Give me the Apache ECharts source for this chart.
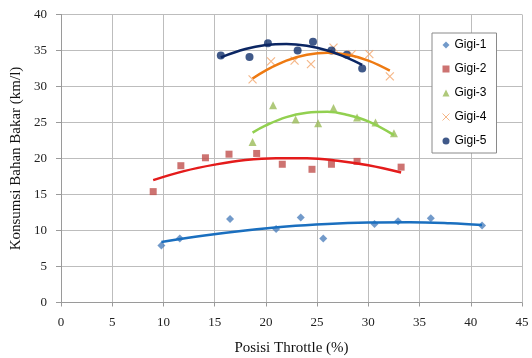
<!DOCTYPE html>
<html>
<head>
<meta charset="utf-8">
<script src="https://cdn.jsdelivr.net/npm/echarts@6/dist/echarts.min.js"></script>
<style>html,body{margin:0;padding:0;background:#fff}#c{width:532px;height:358px}</style>
</head>
<body>
<div id="c"></div>
<script>
// ---- data ----
var seriesNames = ['Gigi-1', 'Gigi-2', 'Gigi-3', 'Gigi-4', 'Gigi-5'];
var gigi1 = [[9.8,7.9],[11.6,8.9],[16.5,11.6],[21.0,10.2],[23.4,11.8],[25.6,8.9],[30.6,10.9],[32.9,11.3],[36.1,11.7],[41.1,10.7]];
var gigi2 = [[9.0,15.4],[11.7,19.0],[14.1,20.1],[16.4,20.6],[19.1,20.7],[21.6,19.2],[24.5,18.5],[26.4,19.2],[28.9,19.6],[33.2,18.8]];
var gigi3 = [[18.7,22.3],[20.7,27.4],[22.9,25.4],[25.1,24.9],[26.6,27.0],[28.9,25.7],[30.7,25.0],[32.5,23.5]];
var gigi4 = [[18.7,31.0],[20.5,33.5],[22.8,33.6],[24.4,33.1],[26.6,35.4],[28.4,34.5],[30.1,34.5],[32.1,31.4]];
var gigi5 = [[15.6,34.3],[18.4,34.1],[20.2,36.0],[23.1,35.0],[24.6,36.2],[26.4,35.0],[27.9,34.4],[29.4,32.5]];
// trendlines (poly, order 2)
var trend1 = [[9.8,8.4],[14,9.3],[18,10.0],[22,10.55],[26,10.9],[30,11.1],[34,11.15],[38,11.0],[41.1,10.75]];
var trend2 = [[9.0,17.0],[12,18.25],[15,19.15],[18,19.8],[21,20.05],[24,20.05],[27,19.7],[30,19.05],[33.2,18.05]];
var trend3 = [[18.7,23.6],[20,24.6],[22,25.75],[24,26.35],[26,26.5],[28,26.05],[30,25.15],[32.5,23.25]];
var trend4 = [[18.7,31.1],[20,32.25],[22,33.6],[24,34.4],[26,34.7],[28,34.4],[30,33.6],[32.1,32.2]];
var trend5 = [[15.6,34.05],[18,35.2],[20,35.75],[22,35.9],[24,35.65],[26,35.0],[28,33.95],[29.4,33.0]];
var xTicks = {min: 0, max: 45, interval: 5};
var yTicks = {min: 0, max: 40, interval: 5};

var markerColors = ['#4f81bd', '#c0504d', '#9bbb59', '#f2a56a', '#10306b'];
var lineColors = ['#1a6fbf', '#e41b1b', '#92d050', '#ee7a12', '#0b2663'];
var symbols = ['diamond', 'rect', 'triangle', 'path://M0,0L10,10M10,0L0,10', 'circle'];
var sizes = [8, 7, 8, 8, 8];
var pts = [gigi1, gigi2, gigi3, gigi4, gigi5];
var trends = [trend1, trend2, trend3, trend4, trend5];

var series = [];
for (var i = 0; i < 5; i++) {
  var isX = (i === 3);
  series.push({
    name: seriesNames[i], type: 'scatter', data: pts[i], z: 2,
    symbol: symbols[i], symbolSize: sizes[i],
    itemStyle: isX ? {color: 'rgba(0,0,0,0)', borderColor: markerColors[i], borderWidth: 1.2}
                   : {color: markerColors[i]},
    emphasis: {disabled: true}
  });
}
for (var j = 0; j < 5; j++) {
  series.push({
    name: seriesNames[j] + ' trend', type: 'line', data: trends[j], z: 3,
    smooth: 0.4, showSymbol: false, symbol: 'none',
    lineStyle: {color: lineColors[j], width: 2.5},
    emphasis: {disabled: true}, silent: true
  });
}

var chart = echarts.init(document.getElementById('c'), null, {renderer: 'canvas'});
chart.setOption({
  animation: false,
  backgroundColor: '#ffffff',
  grid: {left: 61, right: 10, top: 14.5, bottom: 55.5, containLabel: false, outerBoundsMode: 'none'},
  legend: {
    orient: 'vertical', left: 432, top: 33,
    data: seriesNames.map(function (n, k) {
      return {name: n, icon: symbols[k],
        itemStyle: k === 3 ? {color: 'rgba(0,0,0,0)', borderColor: markerColors[k], borderWidth: 1} : {color: markerColors[k]}};
    }),
    itemWidth: 7, itemHeight: 7, itemGap: 10,
    padding: [5, 10, 5, 10],
    backgroundColor: '#ffffff', borderColor: '#8a8a8a', borderWidth: 1,
    textStyle: {fontFamily: 'Liberation Sans', fontSize: 12, color: '#000', lineHeight: 14, height: 14}
  },
  xAxis: {
    type: 'value', min: xTicks.min, max: xTicks.max, interval: xTicks.interval,
    name: 'Posisi Throttle (%)', nameLocation: 'middle', nameGap: 38,
    nameTextStyle: {fontFamily: 'Liberation Serif', fontSize: 15, color: '#111'},
    axisLine: {show: true, onZero: false, lineStyle: {color: '#9a9a9a', width: 1}},
    axisTick: {show: true, length: 4, lineStyle: {color: '#9a9a9a'}},
    axisLabel: {fontFamily: 'Liberation Serif', fontSize: 13, color: '#222', margin: 14},
    splitLine: {show: true, lineStyle: {color: '#bdbdbd', width: 1}}
  },
  yAxis: {
    type: 'value', min: yTicks.min, max: yTicks.max, interval: yTicks.interval,
    name: 'Konsumsi Bahan Bakar (km/l)', nameLocation: 'middle', nameGap: 32,
    nameTextStyle: {fontFamily: 'Liberation Serif', fontSize: 15, color: '#111'},
    axisLine: {show: true, lineStyle: {color: '#9a9a9a', width: 1}},
    axisTick: {show: true, length: 5, lineStyle: {color: '#9a9a9a'}},
    axisLabel: {fontFamily: 'Liberation Serif', fontSize: 13, color: '#222', margin: 14},
    splitLine: {show: true, lineStyle: {color: '#bdbdbd', width: 1}}
  },
  series: series
});
</script>
</body>
</html>
